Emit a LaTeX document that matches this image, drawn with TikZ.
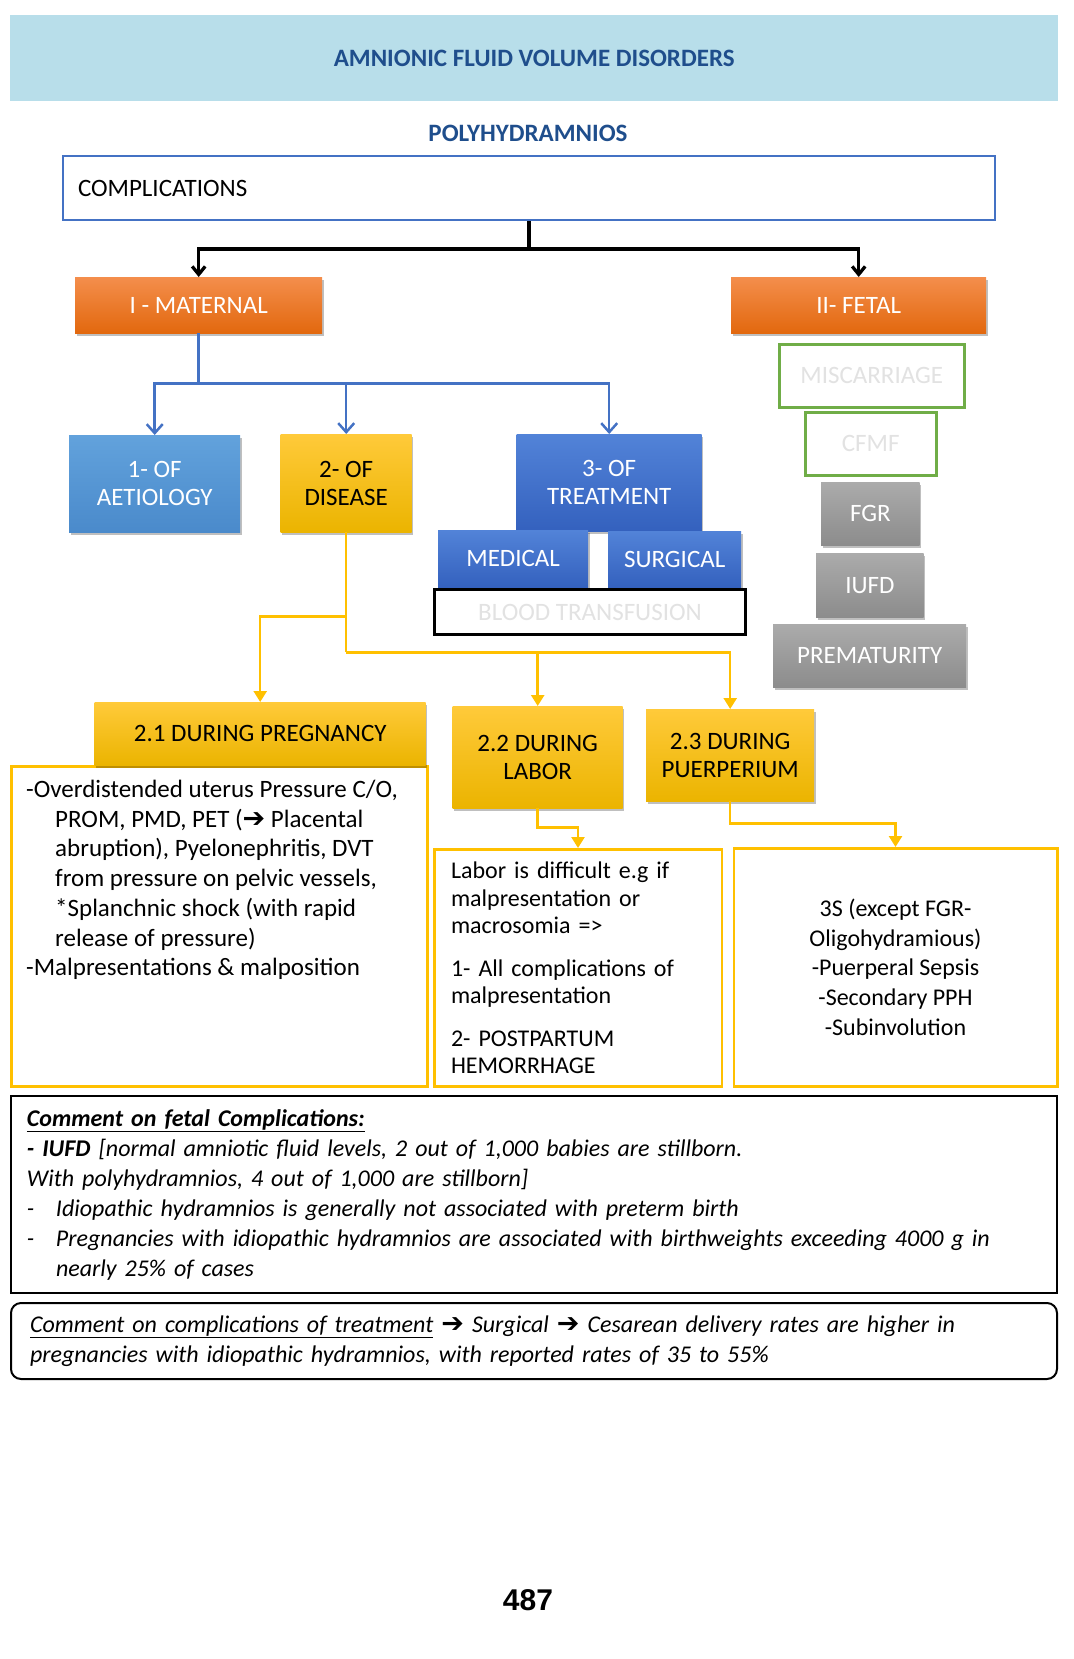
\documentclass[tikz,border=0pt]{standalone}
\usepackage{fontspec}
\setmainfont{Carlito}
\newfontfamily\arrowfont{DejaVu Sans}
\newfontfamily\numfont{Liberation Sans}
\usetikzlibrary{arrows.meta,positioning,shadows}

\definecolor{bannerblue}{HTML}{B8DEEA}
\definecolor{titleblue}{HTML}{1F4E8C}
\definecolor{compblue}{HTML}{4472C4}
\definecolor{orangetop}{HTML}{F48E4C}
\definecolor{orangebot}{HTML}{E2680E}
\definecolor{skytop}{HTML}{62A2DC}
\definecolor{skybot}{HTML}{4A8ACB}
\definecolor{royaltop}{HTML}{5283D8}
\definecolor{royalbot}{HTML}{3461BE}
\definecolor{goldtop}{HTML}{FFCA3A}
\definecolor{goldbot}{HTML}{EBB400}
\definecolor{graytop}{HTML}{ABABAB}
\definecolor{graybot}{HTML}{8C8C8C}
\definecolor{fetalgreen}{HTML}{70AD47}
\definecolor{faint}{HTML}{E2E2E2}
\definecolor{linegold}{HTML}{FFC000}

\newcommand{\fatarrow}{{\arrowfont\bfseries\fontsize{27}{27}\selectfont\char"2794}}

\begin{document}
\begin{tikzpicture}[x=1pt,y=-1pt,
    every node/.style={inner sep=0pt,font=\fontsize{25}{28}\selectfont},
    flat/.style={draw=none,align=center,
        drop shadow={shadow xshift=1.5pt,shadow yshift=-3pt,opacity=0.25,fill=black}},
    orangebox/.style={flat,top color=orangetop,bottom color=orangebot,text=white},
    skybox/.style={flat,top color=skytop,bottom color=skybot,text=white},
    royalbox/.style={flat,top color=royaltop,bottom color=royalbot,text=white},
    goldbox/.style={flat,top color=goldtop,bottom color=goldbot,text=black},
    graybox/.style={flat,top color=graytop,bottom color=graybot,text=white},
    greenbox/.style={draw=fetalgreen,line width=2.5pt,fill=white,text=faint},
    goldframe/.style={draw=linegold,line width=2.5pt,fill=white},
    blackline/.style={line width=3.3pt},
    blueline/.style={draw=compblue,line width=2.5pt},
    goldline/.style={draw=linegold,line width=2.5pt},
    node distance=10pt
]
  \useasboundingbox (0,0) rectangle (1073,1659);

  % heading
  \node[fill=bannerblue,minimum width=1048pt,minimum height=86pt,anchor=north west,
        text=titleblue,font=\fontsize{25}{28}\selectfont\bfseries] (banner) at (10,15)
        {AMNIONIC FLUID VOLUME DISORDERS};
  \node[text=titleblue,font=\fontsize{25}{28}\selectfont\bfseries] (poly) at (528,133) {POLYHYDRAMNIOS};
  \node[draw=compblue,line width=2pt,minimum width=932pt,minimum height=64pt,anchor=north west,
        text width=902pt,align=left,inner xsep=15pt] (comp) at (62,155) {COMPLICATIONS};

  % first level
  \node[orangebox,minimum width=247pt,minimum height=56pt,anchor=north west] (mat) at (75,277) {I - MATERNAL};
  \node[orangebox,minimum width=255pt,minimum height=56pt,anchor=north west] (fetal) at (731,277) {II- FETAL};

  % maternal branches
  \node[skybox,minimum width=171pt,minimum height=97pt,anchor=north west] (aet) at (69,435) {1- OF\\AETIOLOGY};
  \node[goldbox,minimum width=131pt,minimum height=98pt,anchor=north west] (dis) at (280.5,434) {2- OF\\DISEASE};
  \node[royalbox,minimum width=185pt,minimum height=97pt,anchor=north west] (treat) at (516.5,434) {3- OF\\TREATMENT};
  \node[royalbox,minimum width=150pt,minimum height=57pt,anchor=north west] (medical) at (438,530) {MEDICAL};
  \node[royalbox,minimum width=133pt,minimum height=56pt,anchor=north west] (surgical) at (608,531) {SURGICAL};
  \node[draw,line width=3pt,fill=white,text=faint,minimum width=311pt,minimum height=45pt,anchor=north west] (blood) at (433,588) {BLOOD TRANSFUSION};

  % fetal list
  \node[greenbox,minimum width=185pt,minimum height=63pt,anchor=north west] (misc) at (778,343) {MISCARRIAGE};
  \node[greenbox,minimum width=131pt,minimum height=63pt,anchor=north west] (cfmf) at (804,411) {CFMF};
  \node[graybox,minimum width=98.5pt,minimum height=63pt,anchor=north west] (fgr) at (821,482) {FGR};
  \node[graybox,minimum width=107.5pt,minimum height=64pt,anchor=north west] (iufd) at (816,553) {IUFD};
  \node[graybox,minimum width=193pt,minimum height=63pt,anchor=north west] (prem) at (773,624) {PREMATURITY};

  % disease periods
  \node[goldframe,minimum width=416pt,minimum height=320pt,anchor=north west] (pregbox) at (10,765) {};
  \node[goldbox,minimum width=331pt,minimum height=63pt,anchor=north west] (preg) at (94.5,702) {2.1 DURING PREGNANCY};
  \node[anchor=north west,align=left,font=\fontsize{25}{29.7}\selectfont] (pregtxt) at (26,780)
    {-Overdistended uterus Pressure C/O,\\
     \hspace*{29pt}PROM, PMD, PET (\fatarrow\ Placental\\
     \hspace*{29pt}abruption), Pyelonephritis, DVT\\
     \hspace*{29pt}from pressure on pelvic vessels,\\
     \hspace*{29pt}*Splanchnic shock (with rapid\\
     \hspace*{29pt}release of pressure)\\
     -Malpresentations \& malposition};
  \node[goldbox,minimum width=170pt,minimum height=102pt,anchor=north west] (labor) at (452.5,706) {2.2 DURING\\LABOR};
  \node[goldbox,minimum width=168pt,minimum height=92pt,anchor=north west] (puer) at (646,709) {2.3 DURING\\PUERPERIUM};
  \node[goldframe,minimum width=287.5pt,minimum height=237pt,anchor=north west,
        text width=254pt,align=left,font=\fontsize{24}{27.5}\selectfont] (labortxt) at (433,848)
    {Labor is difficult e.g if\\malpresentation or\\macrosomia =>\\[15pt]
     1- All complications of\\malpresentation\\[15pt]
     2- POSTPARTUM\\HEMORRHAGE};
  \node[goldframe,minimum width=323.5pt,minimum height=238pt,anchor=north west,
        align=center,font=\fontsize{24}{29.8}\selectfont] (puertxt) at (732.5,847)
    {3S (except FGR-\\Oligohydramious)\\-Puerperal Sepsis\\-Secondary PPH\\-Subinvolution};

  % comments
  \node[draw,line width=2pt,minimum width=1046pt,minimum height=197pt,anchor=north west,
        text width=1014pt,inner xsep=16pt,align=left,font=\fontsize{24}{30}\selectfont\itshape] (fetalnote) at (10,1095)
    {\textbf{\underline{Comment on fetal Complications:}}\\
     \textbf{- IUFD} [normal amniotic fluid levels, 2 out of 1,000 babies are stillborn.\\
     With polyhydramnios, 4 out of 1,000 are stillborn]\\
     \makebox[29pt][l]{-}Idiopathic hydramnios is generally not associated with preterm birth\\
     \makebox[29pt][l]{-}Pregnancies with idiopathic hydramnios are associated with birthweights exceeding 4000 g in\\
     \hspace*{29pt}nearly 25\% of cases};
  \node[draw,line width=2pt,rounded corners=10pt,minimum width=1046pt,minimum height=76pt,anchor=north west,
        text width=1008pt,inner xsep=19pt,align=left,font=\fontsize{24}{30}\selectfont\itshape] (treatnote) at (10,1302)
    {\underline{Comment on complications of treatment} \fatarrow\ Surgical \fatarrow\ Cesarean delivery rates are higher in\\
     pregnancies with idiopathic hydramnios, with reported rates of 35 to 55\%};

  \node[font=\numfont\bfseries\fontsize{30}{30}\selectfont] (page) at (528,1600) {487};

  % connectors
  \coordinate (cj) at ([yshift=-28pt]comp.south);
  \draw[blackline] (comp.south) -- (cj);
  \draw[blackline,-{Straight Barb[length=8pt,width=13pt]}] (cj) -| (mat.north);
  \draw[blackline,-{Straight Barb[length=8pt,width=13pt]}] (cj) -| (fetal.north);

  \coordinate (mj) at ([yshift=-50pt]mat.south);
  \draw[blueline] (mat.south) -- (mj);
  \foreach \Target in {aet,dis,treat}
    \draw[blueline,-{Straight Barb[length=9pt,width=16pt]}] (mj) -| (\Target.north);

  \coordinate (dj1) at ([yshift=-84pt]dis.south);
  \coordinate (dj2) at ([yshift=-120pt]dis.south);
  \draw[goldline] (dis.south) -- (dj2);
  \draw[goldline,-{Triangle[length=11pt,width=13pt]}] (dj1) -| (preg.north);
  \draw[goldline,-{Triangle[length=11pt,width=13pt]}] (dj2) -| (labor.north);
  \draw[goldline,-{Triangle[length=11pt,width=13pt]}] (dj2) -| (puer.north);
  \draw[goldline,-{Triangle[length=11pt,width=13pt]}] (labor.south) -- ++(0,19) -| (labortxt.north);
  \draw[goldline,-{Triangle[length=11pt,width=13pt]}] (puer.south) -- ++(0,22) -| (puertxt.north);
\end{tikzpicture}
\end{document}
